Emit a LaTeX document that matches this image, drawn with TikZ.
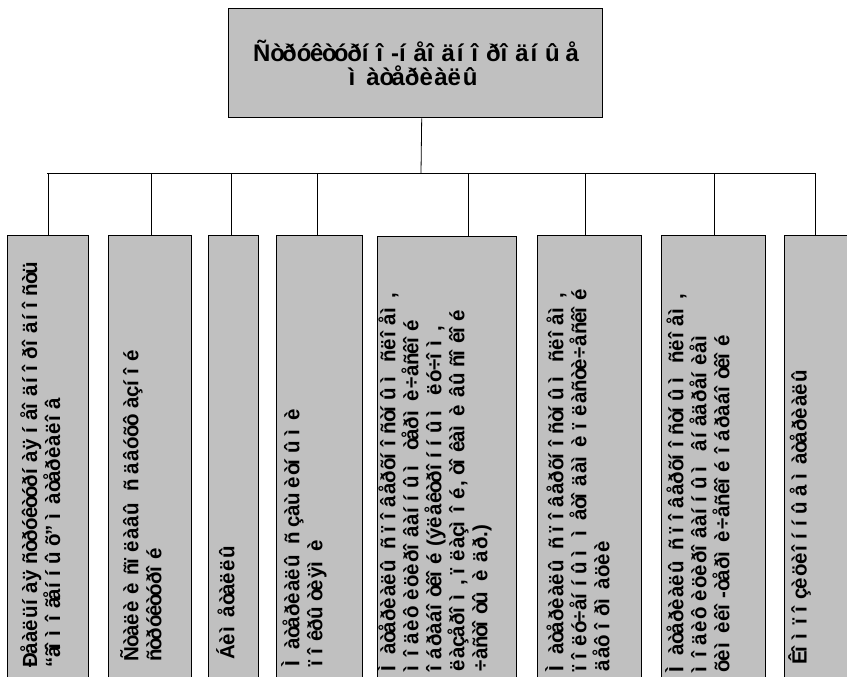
\documentclass[tikz,border=0pt]{standalone}
\usepackage{fontspec}
\setmainfont{Liberation Sans}[BoldFont={Liberation Sans Bold}]
% each Latin-1 letter keeps the advance width of the Cyrillic letter of the same code page slot
\newcommand\cyrw[2]{\setbox0\hbox{#2}\hbox to \wd0{#1\hss}}
\makeatletter
\count@=192
\loop
  \begingroup\lccode`\~=\count@
  \lowercase{\endgroup\edef~{\noexpand\cyrw{\char\the\count@}{\char\the\numexpr\count@+848\relax}}}%
  \catcode\count@=13
  \advance\count@ 1
\ifnum\count@<256 \repeat
\makeatother
\begin{document}
\begin{tikzpicture}[x=1pt,y=-1pt,
  boxstyle/.style={draw=black, line width=1.4pt, fill=boxgray, inner sep=0pt, anchor=north west},
  conn/.style={draw=black, line width=0.8pt},
  lbl/.style={rotate=90, anchor=north west, inner sep=0pt, align=left,
    font=\bfseries\fontsize{20.5}{23}\selectfont},
  toplbl/.style={align=center, font=\bfseries\fontsize{24}{24}\selectfont\addfontfeature{LetterSpace=8}}]
\definecolor{boxgray}{RGB}{192,192,192}
\useasboundingbox (0,0) rectangle (847,677);
\clip (0,0) rectangle (847,677);
% top box
\node[boxstyle, minimum width=374pt, minimum height=109pt] (top) at (228,8) {};
\node[toplbl] (toptext) at (416,63) {Ñòðóêòóðíî-íåîäíîðîäíûå\\ìàòåðèàëû};
% bottom boxes
\node[boxstyle, minimum width=81pt,  minimum height=470pt] (b1) at (7,235) {};
\node[boxstyle, minimum width=83pt,  minimum height=470pt] (b2) at (108,235) {};
\node[boxstyle, minimum width=50pt,  minimum height=470pt] (b3) at (208,235) {};
\node[boxstyle, minimum width=86pt,  minimum height=470pt] (b4) at (276,235) {};
\node[boxstyle, minimum width=139pt, minimum height=470pt] (b5) at (377,236) {};
\node[boxstyle, minimum width=104pt, minimum height=470pt] (b6) at (537,235) {};
\node[boxstyle, minimum width=104pt, minimum height=470pt] (b7) at (661,235) {};
\node[boxstyle, minimum width=80pt,  minimum height=470pt] (b8) at (784,235) {};
% connectors
\coordinate (bus) at (421,173);
\coordinate (busL) at (47,173);
\coordinate (busR) at (815,173);
\draw[conn] ([xshift=6pt]top.south) -- (bus);
\draw[conn] (busL) -- (busR);
\draw[conn] (b1.north) -- (b1.north |- bus);
\draw[conn] ([xshift=1.5pt]b2.north) -- ([xshift=1.5pt]b2.north |- bus);
\draw[conn] ([xshift=-2pt]b3.north) -- ([xshift=-2pt]b3.north |- bus);
\draw[conn] ([xshift=-2pt]b4.north) -- ([xshift=-2pt]b4.north |- bus);
\draw[conn] ([xshift=21.5pt]b5.north) -- ([xshift=21.5pt]b5.north |- bus);
\draw[conn] ([xshift=-4pt]b6.north) -- ([xshift=-4pt]b6.north |- bus);
\draw[conn] ([xshift=1pt]b7.north) -- ([xshift=1pt]b7.north |- bus);
\draw[conn] ([xshift=-9pt]b8.north) -- ([xshift=-9pt]b8.north |- bus);
% labels
\node[lbl] (t1) at (20,668) {Ðåàëüíàÿ ñòðóêòóðíàÿ íåîäíîðîäíîñòü\\“ãîìîãåííûõ” ìàòåðèàëîâ};
\node[lbl] (t2) at (120,662) {Ñòàëè è ñïëàâû ñ äâóõôàçíîé\\ñòðóêòóðîé};
\node[lbl] (t3) at (216,660) {Áèìåòàëëû};
\node[lbl] (t4) at (281,667) {Ìàòåðèàëû ñ çàùèòíûìè\\ïîêðûòèÿìè};
\node[lbl] (t5) at (377,672) {Ìàòåðèàëû ñ ïîâåðõíîñòíûì ñëîåì,\\ìîäèôèöèðîâàííûì òåðìè÷åñêîé\\îáðàáîòêîé (ýëåêòðîííûì ëó÷îì,\\ëàçåðîì, ïëàçìîé, òîêàìè âûñîêîé\\÷àñòîòû è äð.)};
\node[lbl] (t6) at (545,672) {Ìàòåðèàëû ñ ïîâåðõíîñòíûì ñëîåì,\\ïîëó÷åííûì ìåòîäàìè ïëàñòè÷åñêîé\\äåôîðìàöèè};
\node[lbl] (t7) at (665,673) {Ìàòåðèàëû ñ ïîâåðõíîñòíûì ñëîåì,\\ìîäèôèöèðîâàííûì âíåäðåíèåì\\õèìèêî-òåðìè÷åñêîé îáðàáîòêîé};
\node[lbl] (t8) at (788,665) {Êîìïîçèöèîííûå ìàòåðèàëû};
\end{tikzpicture}
\end{document}
